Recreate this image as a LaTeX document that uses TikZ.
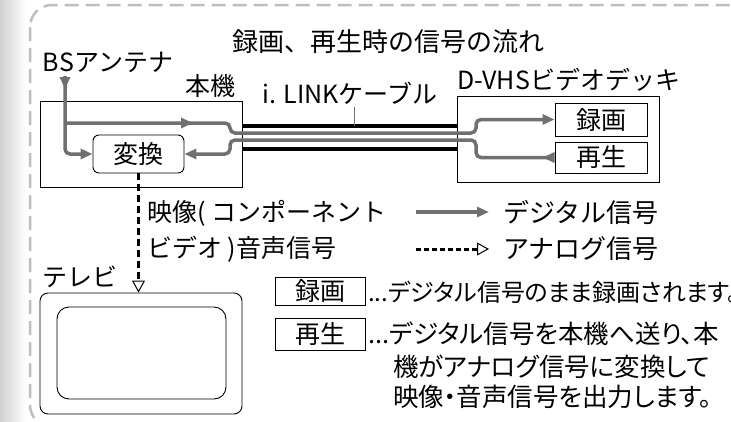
\documentclass[tikz,border=0pt]{standalone}
\usepackage{fontspec}
\setmainfont{Noto Sans CJK JP}
\newfontfamily\notefont[RawFeature=+palt]{Noto Sans CJK JP}
\usetikzlibrary{arrows.meta,decorations.markings}
\definecolor{siggray}{RGB}{112,112,112}
\definecolor{framegray}{RGB}{190,190,190}
\begin{document}
\begin{tikzpicture}[x=1pt,y=-1pt,font=\fontsize{25}{30}\selectfont,
    box/.style={draw,line width=0.9pt,inner sep=0pt},
    lbl/.style={inner sep=0pt},
    big/.style={font=\fontsize{26}{30}\selectfont},
    note/.style={lbl,anchor=west,font=\fontsize{25.5}{30}\selectfont\notefont},
    sig/.style={draw=siggray,line width=3.5pt,rounded corners=5pt},
    sigtip/.style={-{Triangle[length=12pt,width=10pt]}},
    ana/.style={line width=3pt,dash pattern=on 7pt off 4pt,-{Triangle[length=12pt,width=13pt,line width=1pt,fill=white]}},
    midarrow/.style={postaction={decorate},decoration={markings,mark=at position #1 with {\arrow[siggray]{Triangle[length=12pt,width=10pt]}}}},
    cable/.style={line width=4.5pt}]
    \useasboundingbox (0,0) rectangle (731,421);
    \shade[left color=black!18,right color=white] (0,0) rectangle (26,421);
    \draw[framegray,line width=2.5pt,dash pattern=on 14pt off 7pt,rounded corners=22pt] (30,5) rectangle (760,427);

    \node[big] (title) at (388,42) {録画、再生時の信号の流れ};
    \node[lbl,anchor=west] (bs) at (42,62) {B\kern1ptSアンテナ};
    \node[box,minimum width=202pt,minimum height=86pt] (unit) at (141,144) {};
    \node[lbl] (unitlbl) at (210,86) {本機};
    \node[box,rounded corners=6pt,minimum width=91pt,minimum height=38pt] (conv) at (138.5,154) {変換};
    \node[box,minimum width=202pt,minimum height=86pt] (deck) at (558,139) {};
    \node[lbl,anchor=west] (decklbl) at (457,80) {D-VHSビデオデッキ};
    \node[box,minimum width=92pt,minimum height=33pt] (rec) at (601,119.5) {録画};
    \node[box,minimum width=92pt,minimum height=31pt] (play) at (601,157.5) {再生};
    \node[lbl] (cablelbl) at (350,93) {i. LINKケーブル};
    \node[box,rounded corners=8pt,minimum width=202pt,minimum height=121pt] (tv) at (141,353.5) {};
    \node[box,rounded corners=12pt,minimum width=169pt,minimum height=92pt] (screen) at (141.5,353) {};
    \node[lbl,anchor=west] (tvlbl) at (42,277) {テレビ};
    \node[lbl,anchor=west] (av1) at (147,213) {映像( コンポーネント};
    \node[lbl,anchor=west] (av2) at (147,249) {ビデオ )音声信号};
    \node[lbl,big,anchor=west] (digital) at (503,212) {デジタル信号};
    \node[lbl,big,anchor=west] (analog) at (503,249) {アナログ信号};
    \node[box,minimum width=90pt,minimum height=28pt] (recbox) at (320,291) {録画};
    \node[box,minimum width=90pt,minimum height=32pt] (playbox) at (320,334) {再生};
    \node[note,font=\fontsize{24}{30}\selectfont\notefont] (recnote) at (368,292) {...デジタル信号のまま録画されます。};
    \node[note] (playnote1) at (368,334) {...デジタル信号を本機へ送り、本};
    \node[note] (playnote2) at (393,367) {機がアナログ信号に変換して};
    \node[note] (playnote3) at (393,397) {映像・音声信号を出力します。};

    \coordinate (ant) at (65,76);
    \coordinate (split) at (65,123);
    \coordinate (c1) at (0,126);
    \coordinate (c2) at (0,149);
    \coordinate (lead) at (354,126);
    \coordinate (dstart) at (416,212);
    \coordinate (astart) at (416,249);

    \draw[cable] (unit.east |- c1) -- (deck.west |- c1);
    \draw[cable] (unit.east |- c2) -- (deck.west |- c2);
    \draw[siggray,line width=0.8pt,shorten <=3pt] (lead |- cablelbl.south) -- (lead);
    \draw[sig,sigtip,midarrow=13pt] (ant) |- (conv.west);
    \draw[sig,sigtip,midarrow=128pt] (split) -| (230,133) -- (476,133) |- (rec.west);
    \draw[sig,{Triangle[reversed,length=12pt,width=10pt]}-{Triangle[length=12pt,width=10pt]}] (play.west) -| (476,140) -- (230,140) |- (conv.east);
    \draw[ana] (conv.south) -- (conv.south |- tv.north);
    \draw[sig,sigtip] (dstart) -- ([xshift=-14pt]digital.west);
    \draw[ana,dash pattern=on 5pt off 3pt] (astart) -- ([xshift=-14pt]analog.west);
\end{tikzpicture}
\end{document}
